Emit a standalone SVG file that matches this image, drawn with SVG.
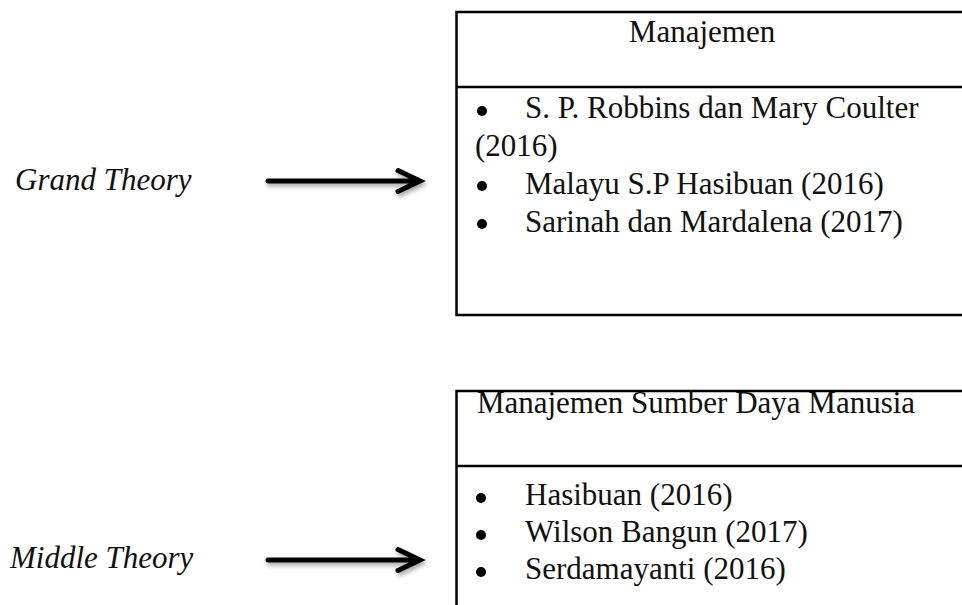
<svg xmlns="http://www.w3.org/2000/svg" width="962" height="605" viewBox="0 0 962 605">
  <defs>
    <style>
      .box { fill: none; stroke: #000; stroke-width: 2.5; }
      .t { font-family: "Liberation Serif", "Times New Roman", serif; font-size: 31px; fill: #111; }
      .lbl { font-family: "Liberation Serif", "Times New Roman", serif; font-size: 31px; font-style: italic; fill: #111; }
      .arr { fill: none; stroke: #000; stroke-width: 5; stroke-linecap: round; stroke-linejoin: miter; }
    </style>
    <filter id="sh" x="-10%" y="-50%" width="130%" height="250%">
      <feDropShadow dx="1.5" dy="3" stdDeviation="2" flood-color="#000" flood-opacity="0.35"/>
    </filter>
  </defs>
  <rect width="962" height="605" fill="#fff"/>

  <g id="label-grand">
    <text class="lbl" x="15" y="190">Grand Theory</text>
  </g>
  <g id="label-middle">
    <text class="lbl" x="10" y="568">Middle Theory</text>
  </g>

  <g id="box-manajemen">
    <path class="box" d="M970,12 H456.5 V315 H970"/>
    <line class="box" x1="456.5" y1="87" x2="970" y2="87"/>
    <text class="t" x="702" y="42" text-anchor="middle">Manajemen</text>
    <circle cx="482" cy="111" r="5" fill="#000"/>
    <text class="t" x="525" y="118">S. P. Robbins dan Mary Coulter</text>
    <text class="t" x="475" y="156">(2016)</text>
    <circle cx="482" cy="186" r="5" fill="#000"/>
    <text class="t" x="525" y="194">Malayu S.P Hasibuan (2016)</text>
    <circle cx="482" cy="224" r="5" fill="#000"/>
    <text class="t" x="525" y="232">Sarinah dan Mardalena (2017)</text>
  </g>

  <g id="box-msdm">
    <path class="box" d="M970,391 H456.5 V610"/>
    <line class="box" x1="456.5" y1="466" x2="970" y2="466"/>
    <text class="t" x="696" y="413" text-anchor="middle">Manajemen Sumber Daya Manusia</text>
    <circle cx="481" cy="498" r="5" fill="#000"/>
    <text class="t" x="525" y="505">Hasibuan (2016)</text>
    <circle cx="481" cy="535" r="5" fill="#000"/>
    <text class="t" x="525" y="542">Wilson Bangun (2017)</text>
    <circle cx="481" cy="572" r="5" fill="#000"/>
    <text class="t" x="525" y="579">Serdamayanti (2016)</text>
  </g>

  <g id="connectors" filter="url(#sh)">
    <path class="arr" d="M268,181 H419 M398,170.5 L420,181 L398,191.5"/>
    <path class="arr" d="M268,560 H419 M398,549.5 L420,560 L398,570.5"/>
  </g>
</svg>
